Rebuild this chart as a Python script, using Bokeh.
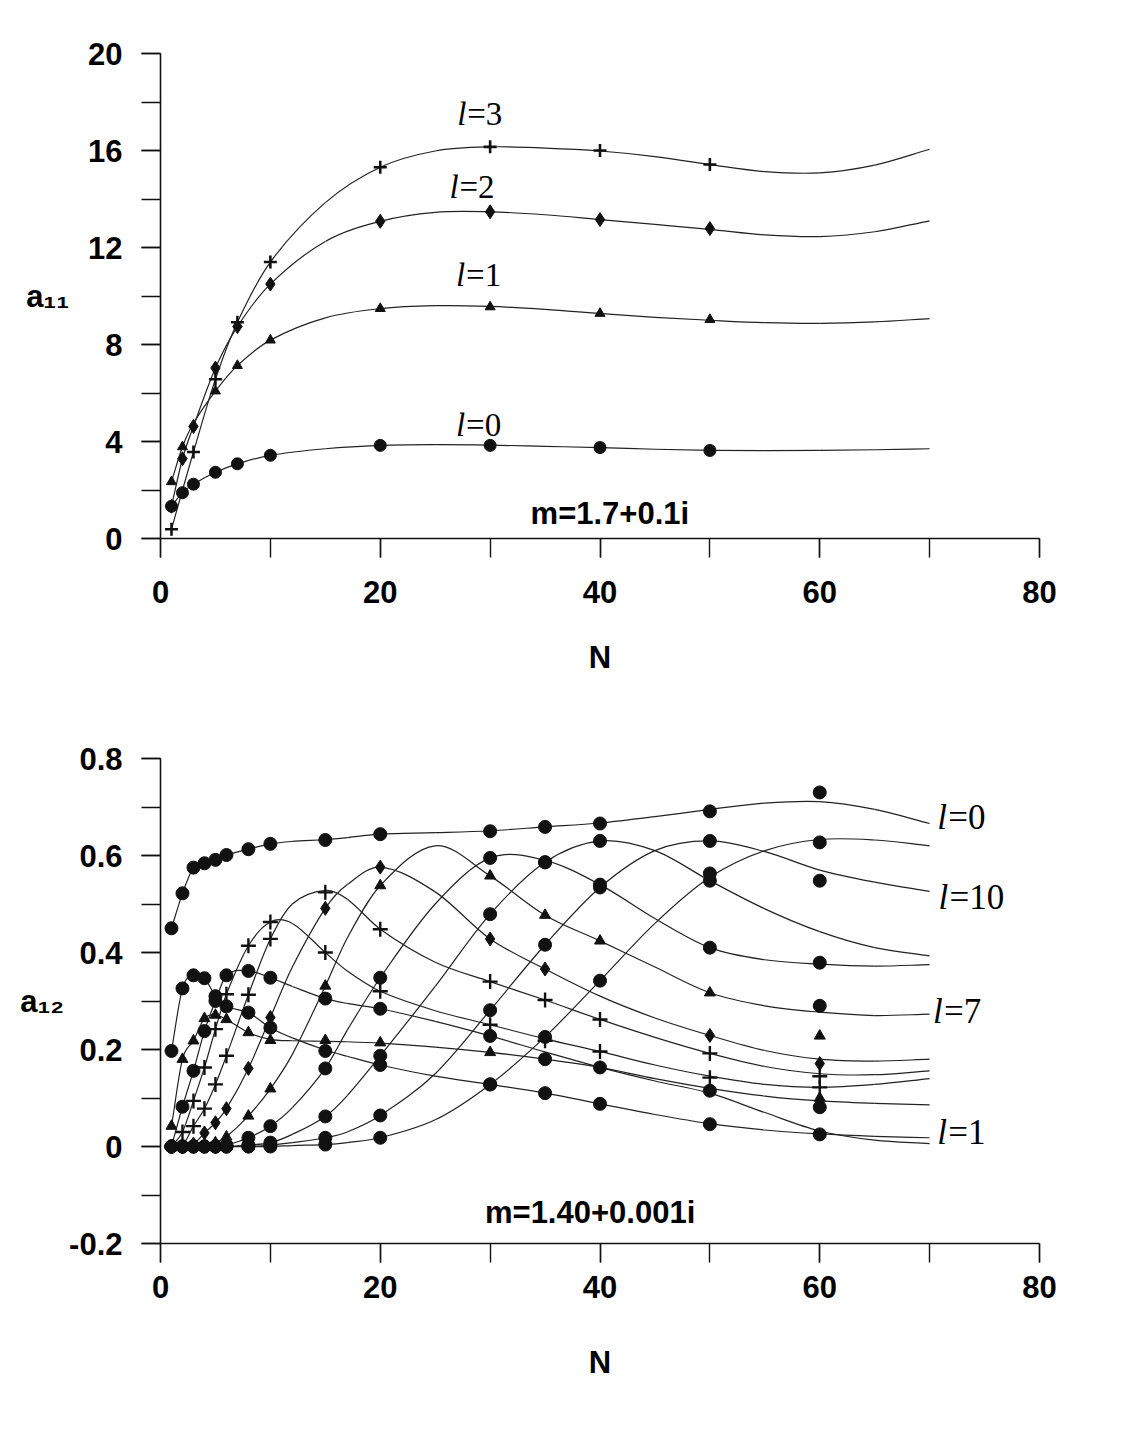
import numpy as np
from bokeh.plotting import figure
from bokeh.layouts import column
from bokeh.models import (Range1d, SingleIntervalTicker, Label, NumeralTickFormatter,
                          ColumnDataSource)
from bokeh.embed import file_html
from bokeh.resources import INLINE

nan = float("nan")

# ---------------- top chart (a11, m=1.7+0.1i) ----------------
TOP_N = [1, 2, 3, 5, 7, 10, 20, 30, 40, 50]
TOP_L0 = [1.33, 1.89, 2.24, 2.73, 3.08, 3.43, 3.84, 3.84, 3.75, 3.63]
TOP_L1 = [2.34, 3.78, nan, 6.08, 7.13, 8.18, 9.48, 9.55, 9.28, 9.03]
TOP_L2 = [1.33, 3.29, 4.62, 7.03, 8.74, 10.49, 13.08, 13.47, 13.15, 12.78]
TOP_L3 = [0.38, nan, 3.57, 6.57, 8.92, 11.40, 15.31, 16.15, 16.00, 15.42]

TOP_CURVE_N = [1, 2, 3, 5, 7, 10, 15, 20, 25, 30, 35, 40, 45, 50, 55, 60, 65, 70]
TOP_CURVE_L0 = [1.33, 1.89, 2.24, 2.73, 3.08, 3.43, 3.70, 3.84, 3.87, 3.85, 3.80, 3.75, 3.68, 3.63, 3.62, 3.63, 3.66, 3.70]
TOP_CURVE_L1 = [2.34, 3.78, 4.75, 6.08, 7.13, 8.18, 9.10, 9.48, 9.60, 9.57, 9.45, 9.28, 9.12, 9.00, 8.90, 8.87, 8.93, 9.07]
TOP_CURVE_L2 = [1.33, 3.29, 4.62, 7.03, 8.74, 10.49, 12.25, 13.08, 13.45, 13.47, 13.35, 13.15, 12.95, 12.75, 12.52, 12.45, 12.65, 13.10]
TOP_CURVE_L3 = [0.38, 2.00, 3.57, 6.57, 8.92, 11.40, 13.85, 15.31, 15.98, 16.15, 16.10, 15.98, 15.75, 15.42, 15.13, 15.08, 15.40, 16.05]

TOP_LABELS = ["3", "2", "1", "0"]

# ---------------- bottom chart (a12, m=1.40+0.001i) ----------------
BOT_N = [1, 2, 3, 4, 5, 6, 8, 10, 15, 20, 30, 35, 40, 50, 60]
BOT_L0 = [0.450, 0.522, 0.575, 0.584, 0.591, 0.601, 0.613, 0.624, 0.632, 0.644, 0.650, 0.659, 0.666, 0.691, 0.730]
BOT_L1 = [0.197, 0.326, 0.353, 0.347, 0.310, 0.289, 0.276, 0.245, 0.197, 0.168, 0.128, 0.110, 0.088, 0.046, 0.025]
BOT_L2 = [0.042, 0.180, 0.218, 0.264, 0.271, 0.262, 0.235, 0.219, 0.219, 0.214, 0.194, nan, 0.163, nan, 0.100]
BOT_L3 = [0.000, 0.082, 0.156, 0.238, 0.300, 0.353, 0.362, 0.348, 0.305, 0.284, 0.228, 0.180, 0.163, 0.115, 0.081]
BOT_L4 = [0.000, 0.030, 0.094, 0.163, 0.242, 0.314, 0.414, 0.463, 0.400, 0.320, 0.251, 0.218, 0.196, 0.142, 0.122]
BOT_L5 = [0.000, 0.000, 0.042, 0.078, 0.128, 0.187, 0.313, 0.428, 0.524, 0.448, 0.340, 0.302, 0.262, 0.192, 0.145]
BOT_L6 = [0.000, 0.000, 0.005, 0.028, 0.049, 0.078, 0.161, 0.266, 0.491, 0.576, 0.428, 0.366, nan, 0.229, 0.171]
BOT_L7 = [0.000, 0.000, 0.000, 0.003, 0.008, 0.020, 0.063, 0.119, 0.331, 0.538, 0.558, 0.477, 0.424, 0.317, 0.228]
BOT_L8 = [0.000, 0.000, 0.000, 0.000, 0.000, 0.003, 0.018, 0.042, 0.161, 0.348, 0.595, 0.586, 0.540, 0.410, 0.379]
BOT_L9 = [0.000, 0.000, 0.000, 0.000, 0.000, 0.000, 0.003, 0.008, 0.062, 0.187, 0.479, 0.586, 0.630, 0.548, 0.290]
BOT_L10 = [0.000, 0.000, 0.000, 0.000, 0.000, 0.000, 0.000, 0.003, 0.018, 0.064, 0.281, 0.416, 0.534, 0.630, 0.548]
BOT_L11 = [0.000, 0.000, 0.000, 0.000, 0.000, 0.000, 0.000, 0.000, 0.004, 0.018, 0.128, 0.226, 0.342, 0.563, 0.627]

BOT_CURVE_N = [1, 2, 3, 4, 5, 6, 8, 10, 12, 15, 17, 20, 25, 30, 35, 40, 45, 50, 55, 60, 65, 70]
BOT_CURVE_L0 = [0.450, 0.522, 0.575, 0.584, 0.591, 0.601, 0.613, 0.624, 0.629, 0.633, 0.637, 0.644, 0.647, 0.651, 0.659, 0.667, 0.680, 0.695, 0.708, 0.711, 0.695, 0.666]
BOT_CURVE_L1 = [0.197, 0.326, 0.353, 0.347, 0.310, 0.289, 0.276, 0.245, 0.224, 0.199, 0.186, 0.168, 0.145, 0.128, 0.110, 0.088, 0.066, 0.047, 0.034, 0.026, 0.021, 0.018]
BOT_CURVE_L2 = [0.042, 0.180, 0.218, 0.264, 0.271, 0.262, 0.235, 0.221, 0.218, 0.217, 0.216, 0.213, 0.205, 0.194, 0.180, 0.163, 0.140, 0.120, 0.104, 0.094, 0.089, 0.086]
BOT_CURVE_L3 = [0.000, 0.082, 0.156, 0.238, 0.300, 0.353, 0.362, 0.348, 0.330, 0.305, 0.295, 0.284, 0.258, 0.228, 0.195, 0.163, 0.135, 0.110, 0.070, 0.032, 0.013, 0.006]
BOT_CURVE_L4 = [0.000, 0.030, 0.094, 0.163, 0.242, 0.314, 0.414, 0.463, 0.460, 0.400, 0.362, 0.320, 0.280, 0.251, 0.222, 0.196, 0.168, 0.145, 0.128, 0.122, 0.128, 0.140]
BOT_CURVE_L5 = [0.000, 0.002, 0.042, 0.078, 0.128, 0.187, 0.313, 0.428, 0.500, 0.528, 0.510, 0.448, 0.380, 0.340, 0.302, 0.262, 0.225, 0.192, 0.165, 0.150, 0.148, 0.156]
BOT_CURVE_L6 = [0.000, 0.000, 0.005, 0.028, 0.049, 0.078, 0.161, 0.266, 0.370, 0.491, 0.540, 0.576, 0.525, 0.428, 0.366, 0.310, 0.265, 0.229, 0.198, 0.180, 0.176, 0.180]
BOT_CURVE_L7 = [0.000, 0.000, 0.000, 0.003, 0.008, 0.020, 0.063, 0.119, 0.190, 0.331, 0.430, 0.538, 0.620, 0.558, 0.477, 0.424, 0.370, 0.317, 0.290, 0.277, 0.270, 0.273]
BOT_CURVE_L8 = [0.000, 0.000, 0.000, 0.000, 0.000, 0.003, 0.018, 0.042, 0.080, 0.161, 0.240, 0.348, 0.500, 0.595, 0.590, 0.540, 0.470, 0.410, 0.385, 0.376, 0.372, 0.375]
BOT_CURVE_L9 = [0.000, 0.000, 0.000, 0.000, 0.000, 0.000, 0.003, 0.008, 0.025, 0.062, 0.105, 0.187, 0.330, 0.479, 0.586, 0.630, 0.610, 0.548, 0.490, 0.443, 0.410, 0.393]
BOT_CURVE_L10 = [0.000, 0.000, 0.000, 0.000, 0.000, 0.000, 0.000, 0.003, 0.008, 0.018, 0.030, 0.064, 0.150, 0.281, 0.416, 0.534, 0.610, 0.630, 0.608, 0.570, 0.545, 0.526]
BOT_CURVE_L11 = [0.000, 0.000, 0.000, 0.000, 0.000, 0.000, 0.000, 0.000, 0.002, 0.004, 0.008, 0.018, 0.055, 0.128, 0.226, 0.342, 0.460, 0.555, 0.610, 0.633, 0.632, 0.620]

BOT_LABELS = ["0", "10", "7", "1"]

INK = "#111111"
SANS = "Liberation Sans"
SERIF = "Liberation Serif"


def bezier_source(xs, ys):
    """Smooth (Hermite -> cubic Bezier) rendering of a curve through its knots."""
    xs = np.asarray(xs, float)
    ys = np.asarray(ys, float)
    m = np.empty(len(xs))
    m[1:-1] = (ys[2:] - ys[:-2]) / (xs[2:] - xs[:-2])
    m[0] = (ys[1] - ys[0]) / (xs[1] - xs[0])
    m[-1] = (ys[-1] - ys[-2]) / (xs[-1] - xs[-2])
    h = np.diff(xs)
    return ColumnDataSource(dict(
        x0=xs[:-1], y0=ys[:-1], x1=xs[1:], y1=ys[1:],
        cx0=xs[:-1] + h / 3, cy0=ys[:-1] + m[:-1] * h / 3,
        cx1=xs[1:] - h / 3, cy1=ys[1:] - m[1:] * h / 3))


def style_axes(p, y_interval, y_title, x_standoff, x_title_standoff, y_title_standoff, y_format=None):
    p.outline_line_color = None
    p.grid.visible = False
    p.background_fill_color = "white"
    p.border_fill_color = "white"
    p.xaxis.ticker = SingleIntervalTicker(interval=20, num_minor_ticks=2)
    p.yaxis.ticker = SingleIntervalTicker(interval=y_interval, num_minor_ticks=2)
    if y_format:
        p.yaxis.formatter = NumeralTickFormatter(format=y_format)
    for ax in (p.xaxis[0], p.yaxis[0]):
        ax.axis_line_color = INK
        ax.axis_line_width = 1.6
        ax.major_tick_line_color = INK
        ax.minor_tick_line_color = INK
        ax.major_tick_line_width = 1.4
        ax.minor_tick_line_width = 1.4
        ax.major_tick_in = 0
        ax.minor_tick_in = 0
        ax.major_tick_out = 19
        ax.minor_tick_out = 19
        ax.major_label_text_font = SANS
        ax.major_label_text_font_style = "bold"
        ax.major_label_text_font_size = "31px"
        ax.major_label_text_color = "black"
        ax.axis_label_text_font = SANS
        ax.axis_label_text_font_style = "bold"
        ax.axis_label_text_font_size = "31px"
        ax.axis_label_text_color = "black"
    p.yaxis.major_label_standoff = 19
    p.xaxis.major_label_standoff = x_standoff
    p.xaxis.axis_label = "N"
    p.xaxis.axis_label_standoff = x_title_standoff
    p.yaxis.axis_label = y_title
    p.yaxis.axis_label_orientation = "horizontal"
    p.yaxis.axis_label_standoff = y_title_standoff


def l_label(p, x, y, num, size, shift):
    p.add_layout(Label(x=x, y=y, text="l", text_font=SERIF, text_font_style="italic",
                       text_font_size=size, text_baseline="middle", text_align="left",
                       text_color="black"))
    p.add_layout(Label(x=x, y=y, x_offset=shift, text="=" + num, text_font=SERIF,
                       text_font_size=size, text_baseline="middle", text_align="left",
                       text_color="black"))


# ================= TOP FIGURE =================
p1 = figure(width=1108, height=690, x_range=Range1d(0, 80), y_range=Range1d(0, 20),
            output_backend="svg", toolbar_location=None,
            min_border_left=160, min_border_right=67, min_border_top=53, min_border_bottom=152)
style_axes(p1, 4, "a\u2081\u2081", 23, 34, 16)

for cy in (TOP_CURVE_L0, TOP_CURVE_L1, TOP_CURVE_L2, TOP_CURVE_L3):
    p1.bezier(x0="x0", y0="y0", x1="x1", y1="y1", cx0="cx0", cy0="cy0", cx1="cx1", cy1="cy1",
              source=bezier_source(TOP_CURVE_N, cy), line_color="#222222", line_width=1.2)

p1.scatter(TOP_N, TOP_L0, marker="circle", size=12, fill_color=INK, line_color=INK)
p1.scatter(TOP_N, TOP_L1, marker="triangle", size=10, fill_color=INK, line_color=INK)
p1.scatter(TOP_N, TOP_L2, marker="diamond", size=14, fill_color=INK, line_color=INK)
p1.scatter(TOP_N, TOP_L3, marker="cross", size=13, line_color=INK, line_width=2.6)

for (lx, ly), num in zip([(27.0, 17.5), (26.3, 14.5), (26.9, 10.85), (26.9, 4.7)], TOP_LABELS):
    l_label(p1, lx, ly, num, "33px", 10)

p1.add_layout(Label(x=40.9, y=1.05, text="m=1.7+0.1i", text_font=SANS, text_font_style="bold",
                    text_font_size="31px", text_align="center", text_baseline="middle",
                    text_color="black"))

# ================= BOTTOM FIGURE =================
p2 = figure(width=1108, height=711, x_range=Range1d(0, 80), y_range=Range1d(-0.2, 0.8 + 1e-9),
            output_backend="svg", toolbar_location=None,
            min_border_left=160, min_border_right=69, min_border_top=68, min_border_bottom=158)
style_axes(p2, 0.2, "a\u2081\u2082", 13, 44, 2, "0.[0]")

bot_curves = [BOT_CURVE_L0, BOT_CURVE_L1, BOT_CURVE_L2, BOT_CURVE_L3, BOT_CURVE_L4, BOT_CURVE_L5,
              BOT_CURVE_L6, BOT_CURVE_L7, BOT_CURVE_L8, BOT_CURVE_L9, BOT_CURVE_L10, BOT_CURVE_L11]
for cy in bot_curves:
    p2.bezier(x0="x0", y0="y0", x1="x1", y1="y1", cx0="cx0", cy0="cy0", cx1="cx1", cy1="cy1",
              source=bezier_source(BOT_CURVE_N, cy), line_color="#222222", line_width=1.2)

for ys in (BOT_L0, BOT_L1, BOT_L3, BOT_L8, BOT_L9, BOT_L10, BOT_L11):
    p2.scatter(BOT_N, ys, marker="circle", size=13, fill_color=INK, line_color=INK)
for ys in (BOT_L2, BOT_L7):
    p2.scatter(BOT_N, ys, marker="triangle", size=11, fill_color=INK, line_color=INK)
for ys in (BOT_L4, BOT_L5):
    p2.scatter(BOT_N, ys, marker="cross", size=15, line_color=INK, line_width=2.4)
p2.scatter(BOT_N, BOT_L6, marker="diamond", size=14, fill_color=INK, line_color=INK)

for (lx, ly), num in zip([(70.7, 0.678), (70.8, 0.513), (70.3, 0.278), (70.7, 0.028)], BOT_LABELS):
    l_label(p2, lx, ly, num, "35px", 11)

p2.add_layout(Label(x=39.1, y=-0.137, text="m=1.40+0.001i", text_font=SANS, text_font_style="bold",
                    text_font_size="31px", text_align="center", text_baseline="middle",
                    text_color="black"))

layout = column(p1, p2)
open("out.html", "w").write(file_html(layout, INLINE))
